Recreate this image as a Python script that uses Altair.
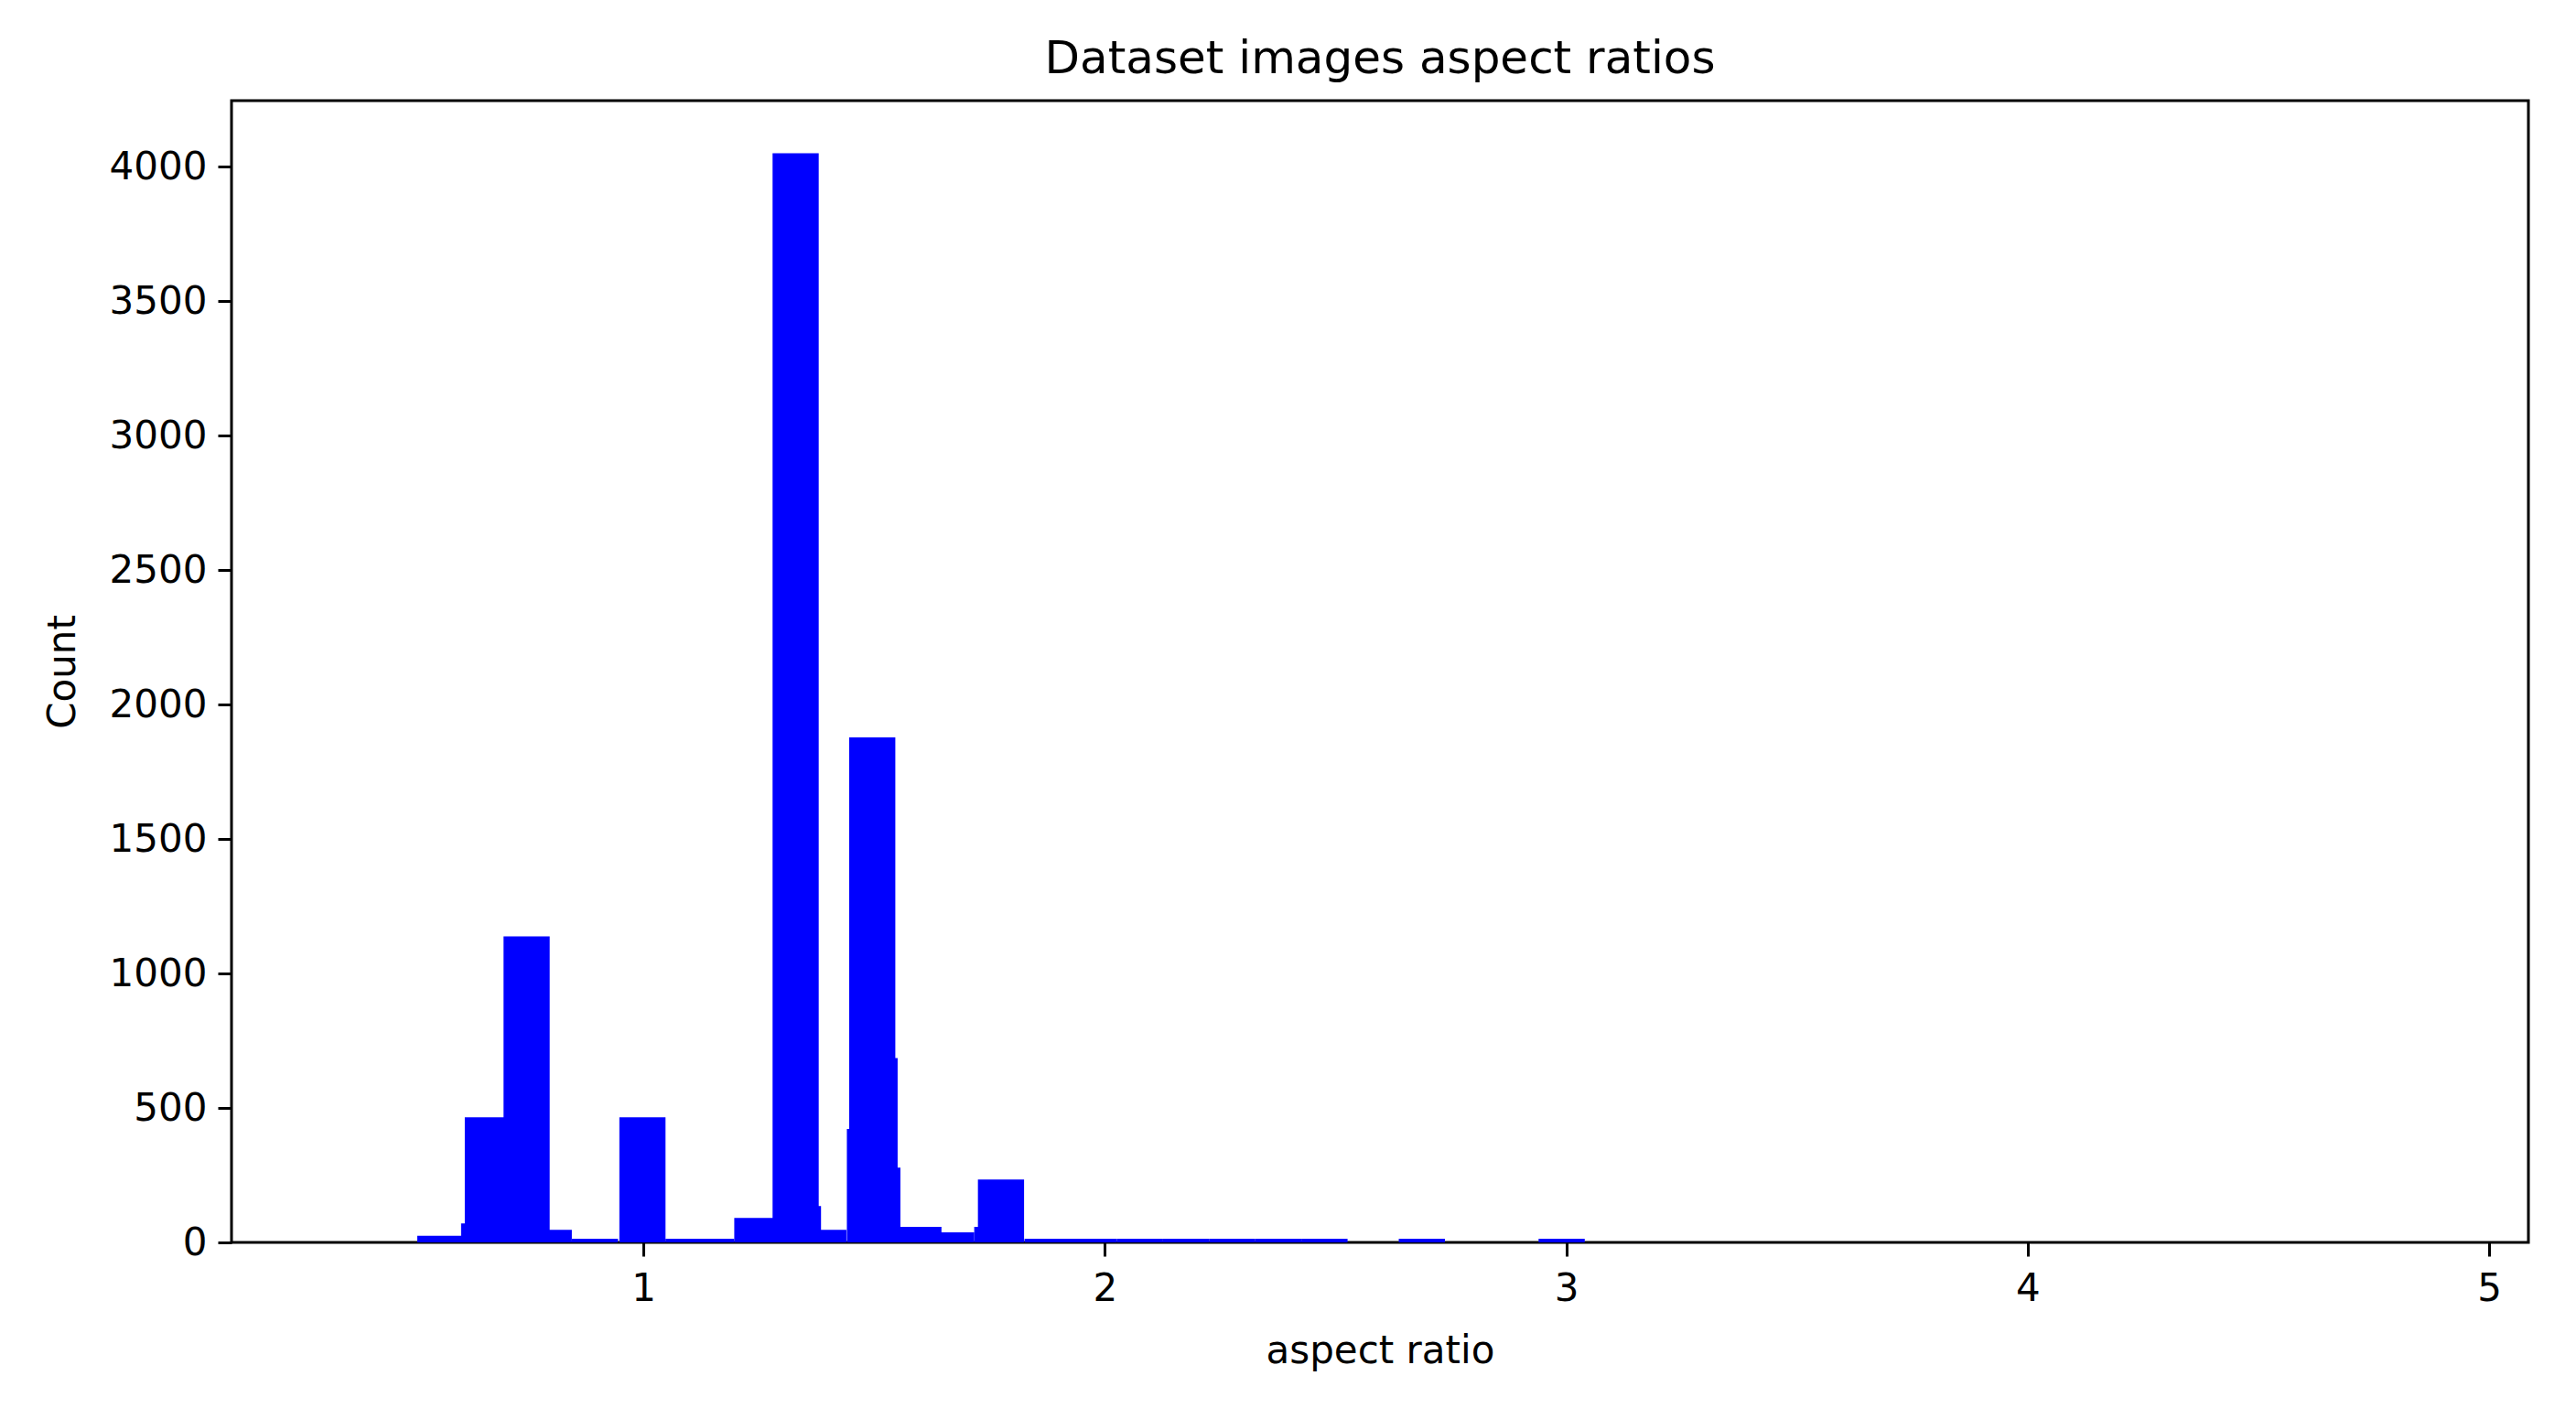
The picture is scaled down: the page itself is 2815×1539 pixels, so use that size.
import altair as alt
import pandas as pd

# aspect-ratio bin centres (bars are 0.1 wide) and their counts
ratios = [0.56, 0.655, 0.663, 0.747, 0.795, 0.895, 0.998, 1.098, 1.147, 1.247,
          1.330, 1.335, 1.39, 1.491, 1.496, 1.501, 1.507, 1.596, 1.667, 1.767,
          1.775, 1.876, 1.976, 2.076, 2.176, 2.276, 2.376, 2.476, 2.687, 2.99]
counts = [25, 71, 465, 1138, 47, 14, 465, 14, 14, 91,
          4049, 135, 47, 422, 1878, 685, 278, 58, 37, 58,
          234, 14, 14, 14, 14, 14, 14, 14, 14, 14]
bar_width = 0.1
x_ticks = [1, 2, 3, 4, 5]
y_ticks = [0, 500, 1000, 1500, 2000, 2500, 3000, 3500, 4000]

df = pd.DataFrame({"ratio": ratios, "count": counts})

FONT = "DejaVu Sans"

chart = (
    alt.Chart(df)
    .transform_calculate(lo=f"datum.ratio - {bar_width/2}", hi=f"datum.ratio + {bar_width/2}")
    .mark_bar(color="#0000ff", strokeWidth=0, opacity=1)
    .encode(
        x=alt.X(
            "lo:Q",
            scale=alt.Scale(domain=[0.1075, 5.085], nice=False, zero=False),
            axis=alt.Axis(
                title="aspect ratio",
                values=x_ticks,
                format="d",
                grid=False,
                domain=False,
                tickColor="black",
                tickWidth=3,
                tickSize=15,
                labelPadding=15,
                labelFontSize=42,
                labelFont=FONT,
                labelColor="black",
                titleFontSize=42,
                titleFont=FONT,
                titleFontWeight="normal",
                titleColor="black",
                titlePadding=27,
                labelFlush=False,
            ),
        ),
        x2="hi:Q",
        y=alt.Y(
            "count:Q",
            scale=alt.Scale(domain=[0, 4245], nice=False),
            axis=alt.Axis(
                title="Count",
                values=y_ticks,
                format="d",
                grid=False,
                domain=False,
                tickColor="black",
                tickWidth=3,
                tickSize=15,
                labelPadding=12,
                labelFontSize=42,
                labelFont=FONT,
                labelColor="black",
                titleFontSize=42,
                titleFont=FONT,
                titleFontWeight="normal",
                titleColor="black",
                titlePadding=29,
                labelFlush=False,
            ),
        ),
        y2=alt.datum(0),
    )
    .properties(
        width=2510,
        height=1248,
        title=alt.TitleParams(
            "Dataset images aspect ratios",
            fontSize=50,
            font=FONT,
            fontWeight="normal",
            color="black",
            anchor="middle",
            offset=20,
        ),
        autosize=alt.AutoSizeParams(type="none"),
        padding={"left": 245, "top": 102, "right": 30, "bottom": 150},
    )
    .configure(background="white", view=alt.ViewConfig(stroke="black", strokeWidth=3))
)

chart.save("out.html", embed_options={"renderer": "svg", "actions": False})
